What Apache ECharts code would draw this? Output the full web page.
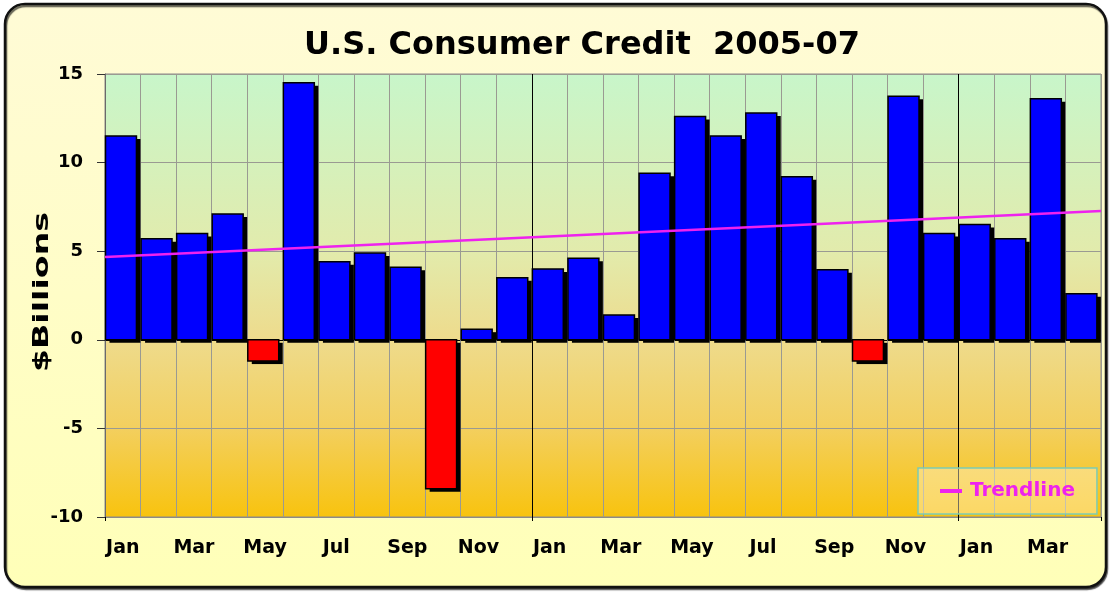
<!DOCTYPE html>
<html>
<head>
<meta charset="utf-8">
<script src="https://cdn.jsdelivr.net/npm/echarts@6/dist/echarts.min.js"></script>
<style>
html,body{margin:0;padding:0;background:#ffffff;}
#chart{width:1110px;height:592px;}
</style>
</head>
<body>
<div id="chart"></div>
<script>
// ---- data ----
var months = ['Jan','Feb','Mar','Apr','May','Jun','Jul','Aug','Sep','Oct','Nov','Dec',
              'Jan','Feb','Mar','Apr','May','Jun','Jul','Aug','Sep','Oct','Nov','Dec',
              'Jan','Feb','Mar','Apr'];
var credit2005 = [11.5, 5.7, 6.0, 7.1, -1.2, 14.5, 4.4, 4.9, 4.1, -8.4, 0.6, 3.5];
var credit2006 = [4.0, 4.6, 1.4, 9.4, 12.6, 11.5, 12.8, 9.2, 3.95, -1.2, 13.75, 6.0];
var credit2007 = [6.5, 5.7, 13.6, 2.6];
var trendStart = 4.67;   // trendline value at left edge of plot
var trendEnd = 7.27;     // trendline value at right edge of plot
var yTicks = [-10, -5, 0, 5, 10, 15];

var values = credit2005.concat(credit2006, credit2007);
var barData = values.map(function (v, i) { return [i, v]; });
var FONT = 'DejaVu Sans';

var chart = echarts.init(document.getElementById('chart'));
var vGrid = ['#000000'];
for (var i = 0; i < 11; i++) vGrid.push('#9a9a92');
var hGrid = yTicks.map(function (t) { return t === 0 ? '#000000' : '#9a9a92'; });

function renderBar(params, api) {
  var idx = api.value(0), val = api.value(1);
  var p0 = api.coord([idx, 0]);
  var p1 = api.coord([idx, val]);
  var band = api.size([1, 0])[0];
  var w = band * 0.87;
  var x = p0[0] - band / 2 + 0.5;
  var y = Math.min(p0[1], p1[1]);
  var h = Math.abs(p1[1] - p0[1]);
  var color = val < 0 ? '#FF0000' : '#0000FF';
  return {
    type: 'group',
    children: [
      { type: 'rect', shape: { x: x + 4, y: y + 3, width: w, height: h }, style: { fill: '#000' } },
      { type: 'rect', shape: { x: x, y: y, width: w, height: h }, style: { fill: color, stroke: '#000', lineWidth: 1.5 } }
    ]
  };
}

chart.setOption({
  backgroundColor: '#ffffff',
  animation: false,
  title: {
    text: 'U.S. Consumer Credit  2005-07',
    left: 582, top: 30, textAlign: 'center', padding: 0,
    textStyle: { fontFamily: FONT, fontWeight: 'bold', fontSize: 32, color: '#000' }
  },
  graphic: {
    elements: [
      {
        type: 'rect', z: -100, silent: true,
        shape: { x: 5, y: 4, width: 1101, height: 583, r: 20 },
        style: {
          fill: new echarts.graphic.LinearGradient(0, 0, 0, 1, [
            { offset: 0, color: '#FFFBD6' }, { offset: 1, color: '#FFFFB8' }
          ]),
          stroke: '#111', lineWidth: 2.5,
          shadowColor: 'rgba(0,0,0,0.6)', shadowOffsetX: 1, shadowOffsetY: 2, shadowBlur: 1
        }
      },
      {
        type: 'text', z: 10, silent: true,
        x: 43, y: 292, rotation: Math.PI / 2, scaleX: 1.58,
        style: {
          text: '$Billions', font: 'bold 21px "DejaVu Sans"',
          fill: '#000', textAlign: 'center', textVerticalAlign: 'middle'
        }
      }
    ]
  },
  legend: {
    data: ['Trendline'],
    left: 918, top: 468,
    padding: [13, 22, 13, 22],
    icon: 'rect', itemWidth: 22, itemHeight: 4, itemGap: 10,
    backgroundColor: 'rgba(255,242,205,0.45)',
    borderColor: '#7CCBB4', borderWidth: 1.5,
    textStyle: { fontFamily: FONT, fontWeight: 'bold', fontSize: 20, color: '#EE22EE', lineHeight: 20, padding: [0, 0, 0, 3] }
  },
  grid: {
    left: 105, right: 9, top: 74, bottom: 75,
    show: true,
    borderColor: '#8a8a8a', borderWidth: 1,
    backgroundColor: new echarts.graphic.LinearGradient(0, 0, 0, 1, [
      { offset: 0, color: '#C8F6CA' },
      { offset: 0.4, color: '#E2EBAC' },
      { offset: 0.6, color: '#EEDB8C' },
      { offset: 0.8, color: '#F3CF5E' },
      { offset: 1, color: '#F8C30E' }
    ])
  },
  xAxis: [
    {
      type: 'category', data: months, boundaryGap: true,
      axisLine: { show: true, onZero: false, lineStyle: { color: '#8a8a8a', width: 1 } },
      axisTick: { show: true, interval: 11, length: 4, lineStyle: { color: '#000', width: 1 } },
      axisLabel: {
        interval: 1, margin: 22,
        fontFamily: FONT, fontWeight: 'bold', fontSize: 19, color: '#000'
      },
      splitLine: { show: true, interval: 0, lineStyle: { color: vGrid, width: 1 } }
    },
    {
      type: 'value', min: 0, max: 28, show: false, position: 'top'
    }
  ],
  yAxis: {
    type: 'value', min: -10, max: 15, interval: 5,
    axisLine: { show: true, lineStyle: { color: '#6a6a6a', width: 1 } },
    axisTick: { show: true, length: 8, inside: false, lineStyle: { color: '#333', width: 1 } },
    axisLabel: { margin: 22, fontFamily: FONT, fontWeight: 'bold', fontSize: 18, color: '#000' },
    splitLine: { show: true, lineStyle: { color: hGrid, width: 1 } }
  },
  series: [
    {
      name: 'Consumer Credit',
      type: 'custom',
      xAxisIndex: 0,
      renderItem: renderBar,
      encode: { x: 0, y: 1 },
      data: barData,
      z: 2
    },
    {
      name: 'Trendline',
      type: 'line',
      xAxisIndex: 1,
      data: [[0, trendStart], [28, trendEnd]],
      showSymbol: false, symbol: 'none',
      z: 5,
      lineStyle: { color: '#EE22EE', width: 2.5 },
      itemStyle: { color: '#EE22EE' }
    }
  ]
});
</script>
</body>
</html>
